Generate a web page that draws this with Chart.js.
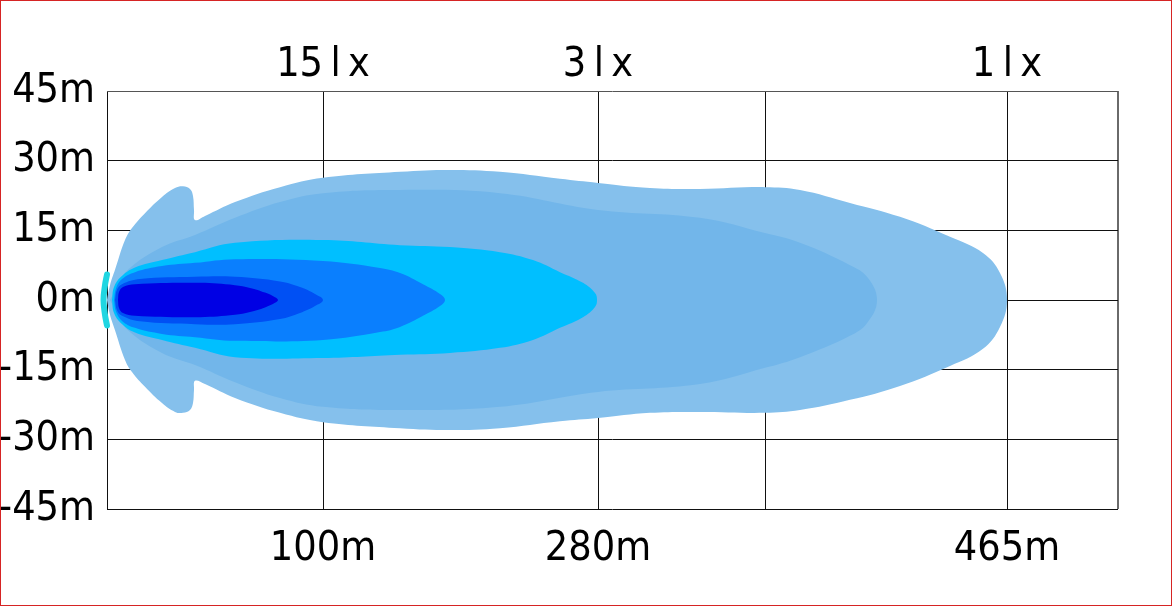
<!DOCTYPE html>
<html>
<head>
<meta charset="utf-8">
<title>Beam pattern</title>
<script src="https://cdn.jsdelivr.net/npm/chart.js@4.4.1/dist/chart.umd.min.js"></script>
<style>
  html, body { margin: 0; padding: 0; background: #fff; }
  #wrap { position: relative; width: 1174px; height: 607px; }
  #frame {
    position: absolute; left: 0; top: 0; width: 1172px; height: 606px;
    box-sizing: border-box; border: 1px solid #d62424; pointer-events: none;
  }
</style>
</head>
<body>
<div id="wrap">
  <canvas id="beam" width="1174" height="607"></canvas>
  <div id="frame"></div>
</div>
<script>
// x = position along the (not to scale) drawing, 0 .. 1011; y = metres left/right
const xTicks = [0, 216, 491, 658, 900, 1011];
const distLabels = ["", "100m", "280m", "", "465m", ""];
const luxLabels = ["", "15\u2009l\u2009x", "3\u2009l\u2009x", "", "1\u2009l\u2009x", ""];
const yTicks = [45, 30, 15, 0, -15, -30, -45];

// outer contour (lightest), with the near-field flare
const outerX = [0, 3, 8, 18, 25, 38, 55, 68, 76, 83, 86, 87, 88, 98, 128, 173, 216, 293, 343, 393, 453, 491, 543, 593, 658, 693, 743, 793, 843, 876, 893, 900];
const outerTop = [0, 3.2, 6.5, 12.9, 15.5, 18.7, 22.2, 24.1, 24.5, 23.9, 22.4, 19.4, 17.2, 18.1, 21.1, 24.3, 26.3, 27.6, 28.0, 27.6, 26.1, 25.2, 24.1, 23.9, 24.3, 23.7, 20.9, 17.9, 13.6, 10.1, 5.8, 0];
const outerBottom = [0, -3.2, -6.5, -12.9, -15.5, -18.7, -22.2, -24.1, -24.3, -23.7, -22.2, -19.4, -17.4, -18.1, -21.1, -24.3, -26.3, -27.6, -28.0, -27.6, -26.1, -25.4, -24.3, -24.1, -24.3, -23.7, -21.5, -18.5, -14.2, -10.5, -5.8, 0];

// second contour
const midX = [3, 10, 21, 55, 88, 128, 173, 216, 293, 393, 491, 593, 658, 693, 743, 760, 770];
const midTop = [0, 2.8, 6.5, 11.4, 14.0, 17.7, 21.1, 23.0, 23.7, 23.0, 19.4, 17.7, 14.4, 12.3, 7.5, 5.0, 0];
const midBottom = [0, -2.8, -6.5, -11.4, -14.0, -17.7, -21.1, -23.0, -23.7, -23.0, -19.8, -18.1, -14.6, -12.3, -7.7, -5.0, 0];

// 3 lx contour (cyan)
const cyanX = [5, 7, 14, 28, 55, 88, 128, 216, 293, 343, 393, 426, 453, 476, 488, 490];
const cyanTop = [0, 2.8, 5.0, 7.0, 8.6, 10.3, 12.3, 12.9, 11.8, 11.4, 10.3, 8.6, 6.0, 3.7, 1.5, 0];
const cyanBottom = [0, -2.8, -5.0, -7.0, -8.6, -10.3, -12.3, -12.5, -11.8, -11.4, -10.3, -8.6, -6.0, -3.7, -1.5, 0];

// inner contours
const blueX = [7, 9, 15, 28, 55, 88, 128, 216, 273, 293, 316, 333, 338];
const blueTop = [0, 2.5, 4.5, 6.0, 7.3, 8.0, 8.8, 8.4, 6.9, 5.8, 3.4, 1.3, 0];
const blueBottom = [0, -2.5, -4.5, -6.0, -7.3, -8.0, -8.8, -8.6, -6.9, -5.8, -3.4, -1.3, 0];

const deepX = [8, 10, 15, 33, 88, 128, 173, 193, 208, 216];
const deepTop = [0, 2.2, 3.4, 4.5, 5.0, 5.0, 4.0, 2.8, 1.3, 0];
const deepBottom = [0, -2.2, -3.4, -4.6, -5.2, -5.2, -4.1, -2.8, -1.3, 0];

const darkX = [11, 12, 16, 28, 93, 128, 143, 158, 168, 171];
const darkTop = [0, 1.7, 2.8, 3.4, 3.7, 3.2, 2.6, 1.6, 0.6, 0];
const darkBottom = [0, -1.7, -2.8, -3.4, -3.7, -3.2, -2.6, -1.6, -0.6, 0];

// lens spill just left of the axis
const spillX = [0, -2, -3.5, -2, 0];
const spillY = [5.5, 3.2, 0, -3.2, -5.5];

const colors = ["#85c0ec", "#72b6ea", "#00bfff", "#0a7ffe", "#0050f4", "#0000e4"];

// top edge left->right, then bottom edge back to the start
function outline(xs, top, bottom) {
  const pts = xs.map((x, i) => ({ x: x, y: top[i] }));
  for (let i = xs.length - 2; i >= 0; i--) {
    pts.push({ x: xs[i], y: bottom[i] });
  }
  return pts;
}

const contours = [
  outline(outerX, outerTop, outerBottom),
  outline(midX, midTop, midBottom),
  outline(cyanX, cyanTop, cyanBottom),
  outline(blueX, blueTop, blueBottom),
  outline(deepX, deepTop, deepBottom),
  outline(darkX, darkTop, darkBottom),
];

const datasets = contours.map((pts, i) => ({
  data: pts,
  showLine: true,
  fill: "shape",
  backgroundColor: colors[i],
  borderWidth: 0,
  pointRadius: 0,
  tension: 0.4,
  order: 10 - i, // outer drawn first
}));

datasets.push({
  data: spillX.map((x, i) => ({ x: x, y: spillY[i] })),
  showLine: true,
  fill: false,
  borderColor: "#1fd6e2",
  borderWidth: 6,
  borderCapStyle: "round",
  pointRadius: 0,
  tension: 0.4,
  clip: false,
  order: 0,
});

const font = { family: "'Liberation Sans Narrow', 'DejaVu Sans Condensed', 'Noto Sans', sans-serif", size: 41 };

const ctx = document.getElementById("beam").getContext("2d");
new Chart(ctx, {
  type: "scatter",
  data: { datasets: datasets },
  options: {
    responsive: false,
    animation: false,
    events: [],
    layout: { padding: { left: 0, right: 56, top: 0, bottom: 0 } },
    plugins: { legend: { display: false }, tooltip: { enabled: false } },
    scales: {
      x: {
        type: "linear",
        position: "bottom",
        min: 0,
        max: 1011,
        z: 1,
        afterBuildTicks: (s) => { s.ticks = xTicks.map((v) => ({ value: v })); },
        afterFit: (s) => { s.height = 98; },
        grid: {
          drawTicks: false,
          color: (c) => (c.tick && c.tick.value === 1011 ? "#6a6a6a" : "#111"),
          lineWidth: (c) => (c.tick && c.tick.value === 1011 ? 2 : 1),
        },
        border: { display: false },
        ticks: {
          autoSkip: false,
          maxRotation: 0,
          padding: 16,
          color: "#000",
          font: font,
          callback: (v) => distLabels[xTicks.indexOf(v)],
        },
      },
      x2: {
        type: "linear",
        position: "top",
        min: 0,
        max: 1011,
        afterBuildTicks: (s) => { s.ticks = xTicks.map((v) => ({ value: v })); },
        afterFit: (s) => { s.height = 91; },
        grid: { display: false, drawTicks: false },
        border: { display: false },
        ticks: {
          autoSkip: false,
          maxRotation: 0,
          padding: 1,
          color: "#000",
          font: font,
          callback: (v) => luxLabels[xTicks.indexOf(v)],
        },
      },
      y: {
        type: "linear",
        min: -45,
        max: 45,
        z: 1,
        afterBuildTicks: (s) => { s.ticks = yTicks.map((v) => ({ value: v })); },
        afterFit: (s) => { s.width = 107; },
        grid: {
          drawTicks: false,
          color: (c) => (c.tick && c.tick.value === 45 ? "#555" : "#111"),
        },
        border: { display: false },
        ticks: {
          padding: 12,
          color: "#000",
          font: font,
          callback: (v) => v + "m",
        },
      },
    },
  },
});
</script>
</body>
</html>
